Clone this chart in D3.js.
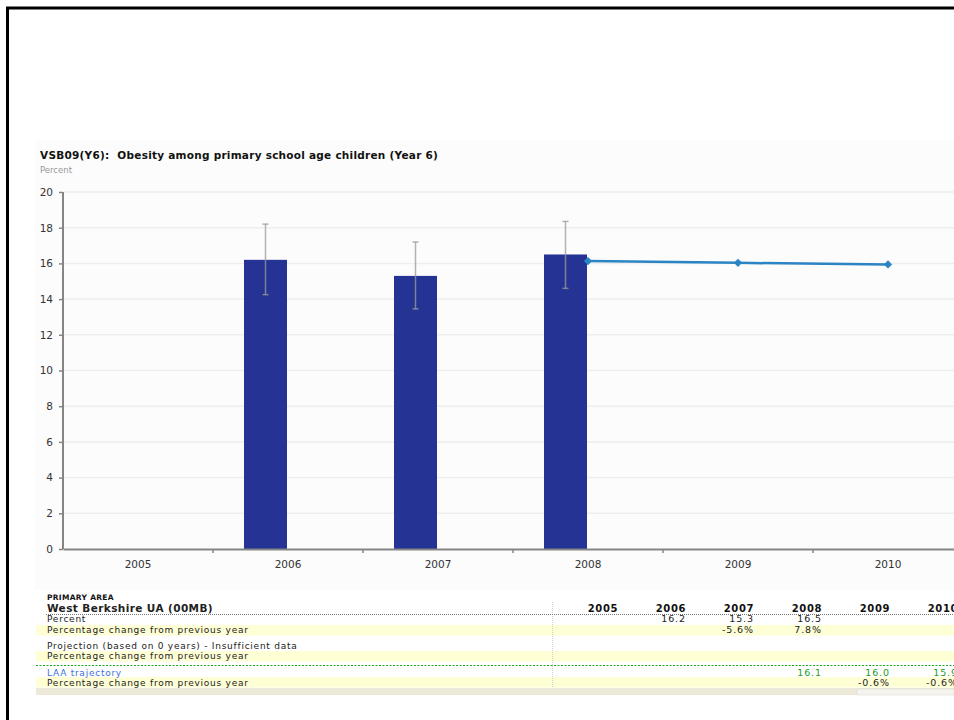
<!DOCTYPE html>
<html>
<head>
<meta charset="utf-8">
<script src="https://cdn.jsdelivr.net/npm/d3@7"></script>
<style>
  body { margin: 0; background: #fff; overflow: hidden; }
  svg { display: block; font-family: "DejaVu Sans", Verdana, sans-serif; }
  text { white-space: pre; }
</style>
</head>
<body>
<svg width="954" height="720"></svg>
<script>
// данные
const years = ["2005", "2006", "2007", "2008", "2009", "2010"];
const percent = [null, 16.2, 15.3, 16.5, null, null];
const ciLow = [null, 14.25, 13.45, 14.6, null, null];
const ciHigh = [null, 18.2, 17.2, 18.35, null, null];
const trajectory = [null, null, null, 16.13, 16.03, 15.94];
const yTicks = [0, 2, 4, 6, 8, 10, 12, 14, 16, 18, 20];

const titleText = "VSB09(Y6):  Obesity among primary school age children (Year 6)";
const unitText = "Percent";
const areaName = "West Berkshire UA (00MB)";

const svg = d3.select("svg");

// рамка слайда
svg.append("line").attr("x1", 7.5).attr("x2", 7.5).attr("y1", 7).attr("y2", 720)
    .attr("stroke", "#000").attr("stroke-width", 3);
svg.append("line").attr("x1", 6).attr("x2", 954).attr("y1", 8).attr("y2", 8)
    .attr("stroke", "#000").attr("stroke-width", 3);

// светлый фон области графика
svg.append("rect").attr("x", 35).attr("y", 140).attr("width", 919).attr("height", 450)
    .attr("fill", "#fcfcfc");

svg.append("text").attr("x", 40).attr("y", 159)
    .attr("font-size", 10.5).attr("font-weight", "bold").attr("fill", "#111")
    .attr("letter-spacing", 0.25)
    .text(titleText);
svg.append("text").attr("x", 40).attr("y", 173)
    .attr("font-size", 8.5).attr("fill", "#999")
    .text(unitText);

// шкалы
const x = d3.scaleBand().domain(years).range([63, 963]);
const xSub = d3.scaleBand().domain(["bar", "empty"]).range([31, 117]);
const y = d3.scaleLinear().domain([0, 20]).range([549, 192]);

// сетка
svg.append("g").selectAll("line").data(yTicks.slice(1)).join("line")
    .attr("x1", 64).attr("x2", 954)
    .attr("y1", d => y(d)).attr("y2", d => y(d))
    .attr("stroke", "#eeeeee").attr("stroke-width", 1.5);

// столбцы
const barData = years.map((yr, i) => ({ yr, v: percent[i], lo: ciLow[i], hi: ciHigh[i] }))
    .filter(d => d.v != null);

svg.append("g").selectAll("rect").data(barData).join("rect")
    .attr("x", d => x(d.yr) + xSub("bar"))
    .attr("y", d => y(d.v))
    .attr("width", xSub.bandwidth())
    .attr("height", d => y(0) - y(d.v))
    .attr("fill", "#253494");

// доверительные интервалы
const eb = svg.append("g").attr("stroke", "#9a9a9a").attr("stroke-opacity", 0.75).attr("stroke-width", 1.5);
barData.forEach(d => {
    const cx = x(d.yr) + xSub("bar") + xSub.bandwidth() / 2;
    eb.append("line").attr("x1", cx).attr("x2", cx).attr("y1", y(d.hi)).attr("y2", y(d.lo));
    eb.append("line").attr("x1", cx - 3).attr("x2", cx + 3).attr("y1", y(d.hi)).attr("y2", y(d.hi));
    eb.append("line").attr("x1", cx - 3).attr("x2", cx + 3).attr("y1", y(d.lo)).attr("y2", y(d.lo));
});

// траектория
const trajData = years.map((yr, i) => ({ yr, v: trajectory[i] })).filter(d => d.v != null);
const line = d3.line()
    .x(d => x(d.yr) + x.bandwidth() / 2)
    .y(d => y(d.v));
svg.append("path").attr("d", line(trajData))
    .attr("fill", "none").attr("stroke", "#2b84c4").attr("stroke-width", 2.5);
svg.append("g").selectAll("path").data(trajData).join("path")
    .attr("d", d3.symbol(d3.symbolSquare, 34))
    .attr("transform", d => `translate(${x(d.yr) + x.bandwidth() / 2},${y(d.v)}) rotate(45)`)
    .attr("fill", "#2b84c4");

// оси
const yAxis = svg.append("g").attr("transform", "translate(63,0)")
    .call(d3.axisLeft(y).tickValues(yTicks).tickSize(4).tickPadding(6));
const xAxis = svg.append("g").attr("transform", `translate(0,${y(0)})`)
    .call(d3.axisBottom(x).tickSize(0).tickPadding(12));
[yAxis, xAxis].forEach(g => {
    g.select(".domain").attr("stroke", "#858585").attr("stroke-width", 2);
    g.selectAll(".tick line").attr("stroke", "#858585").attr("stroke-width", 1.5);
    g.selectAll("text").attr("font-size", 10.5).attr("fill", "#333")
        .attr("font-family", "DejaVu Sans, Verdana, sans-serif");
});
yAxis.select(".domain").attr("d", `M0,${y(20)}V${y(0)}`);
// засечки по границам категорий
svg.append("g").selectAll("line").data(years.slice(1)).join("line")
    .attr("x1", d => x(d)).attr("x2", d => x(d))
    .attr("y1", y(0)).attr("y2", y(0) + 4)
    .attr("stroke", "#858585").attr("stroke-width", 1.5);

// таблица под графиком
const tx = d3.scaleBand().domain(years).range([550, 958]);
const tbl = svg.append("g").attr("font-size", 9).attr("fill", "#111");

// жёлтые строки
[625, 651, 677].forEach(top => {
    tbl.append("rect").attr("x", 36).attr("y", top).attr("width", 918).attr("height", 10.5)
        .attr("fill", "#ffffd6");
});
svg.append("rect").attr("x", 36).attr("y", 688).attr("width", 918).attr("height", 7)
    .attr("fill", "#ece9d8");
svg.append("rect").attr("x", 857).attr("y", 689).attr("width", 97).attr("height", 6)
    .attr("fill", "#f4f3ee").attr("stroke", "#d8d6cc").attr("stroke-width", 0.5);

tbl.append("line").attr("x1", 552.5).attr("x2", 552.5).attr("y1", 602).attr("y2", 688)
    .attr("stroke", "#d0d0d0").attr("stroke-dasharray", "1,1");
tbl.append("line").attr("x1", 46).attr("x2", 954).attr("y1", 614.5).attr("y2", 614.5)
    .attr("stroke", "#777").attr("stroke-dasharray", "1,1");
tbl.append("line").attr("x1", 36).attr("x2", 954).attr("y1", 665.5).attr("y2", 665.5)
    .attr("stroke", "#1fa51f").attr("stroke-dasharray", "2,1.5");

tbl.append("text").attr("x", 47).attr("y", 600).attr("font-size", 7.5).attr("font-weight", "bold")
    .attr("letter-spacing", 0.3).text("PRIMARY AREA");
tbl.append("text").attr("x", 47).attr("y", 611.5).attr("font-size", 10.5).attr("font-weight", "bold")
    .attr("letter-spacing", 0.4).attr("fill", "#222").text(areaName);

const rowLabels = [
    { t: "Percent", y: 621.5, c: "#222" },
    { t: "Percentage change from previous year", y: 632.5, c: "#222" },
    { t: "Projection (based on 0 years) - Insufficient data", y: 649, c: "#222" },
    { t: "Percentage change from previous year", y: 659, c: "#222" },
    { t: "LAA trajectory", y: 675.5, c: "#3d6fe0" },
    { t: "Percentage change from previous year", y: 685.5, c: "#222" }
];
tbl.selectAll("text.row").data(rowLabels).join("text").attr("class", "row")
    .attr("x", 47).attr("y", d => d.y).attr("fill", d => d.c)
    .attr("letter-spacing", 0.75).text(d => d.t);

// заголовки лет
tbl.selectAll("text.yr").data(years).join("text").attr("class", "yr")
    .attr("x", d => tx(d) + tx.bandwidth()).attr("y", 611.5)
    .attr("text-anchor", "end").attr("font-weight", "bold").attr("font-size", 10)
    .attr("letter-spacing", 0.6)
    .text(d => d);

const fmtPct = (a, b) => (a == null || b == null) ? null : ((b - a) / a * 100).toFixed(1) + "%";

const cells = [];
years.forEach((yr, i) => {
    if (percent[i] != null) cells.push({ yr, y: 621.5, t: percent[i].toFixed(1), c: "#222" });
    const ch = i > 0 ? fmtPct(percent[i - 1], percent[i]) : null;
    if (ch) cells.push({ yr, y: 632.5, t: ch, c: "#222" });
    if (trajectory[i] != null) cells.push({ yr, y: 675.5, t: trajectory[i].toFixed(1), c: "#1f9a1f" });
    const tch = i > 0 ? fmtPct(trajectory[i - 1], trajectory[i]) : null;
    if (tch) cells.push({ yr, y: 685.5, t: tch, c: "#222" });
});
tbl.selectAll("text.cell").data(cells).join("text").attr("class", "cell")
    .attr("x", d => tx(d.yr) + tx.bandwidth()).attr("y", d => d.y)
    .attr("text-anchor", "end").attr("font-size", 9.5).attr("fill", d => d.c)
    .attr("letter-spacing", 0.9)
    .text(d => d.t);
</script>
</body>
</html>
